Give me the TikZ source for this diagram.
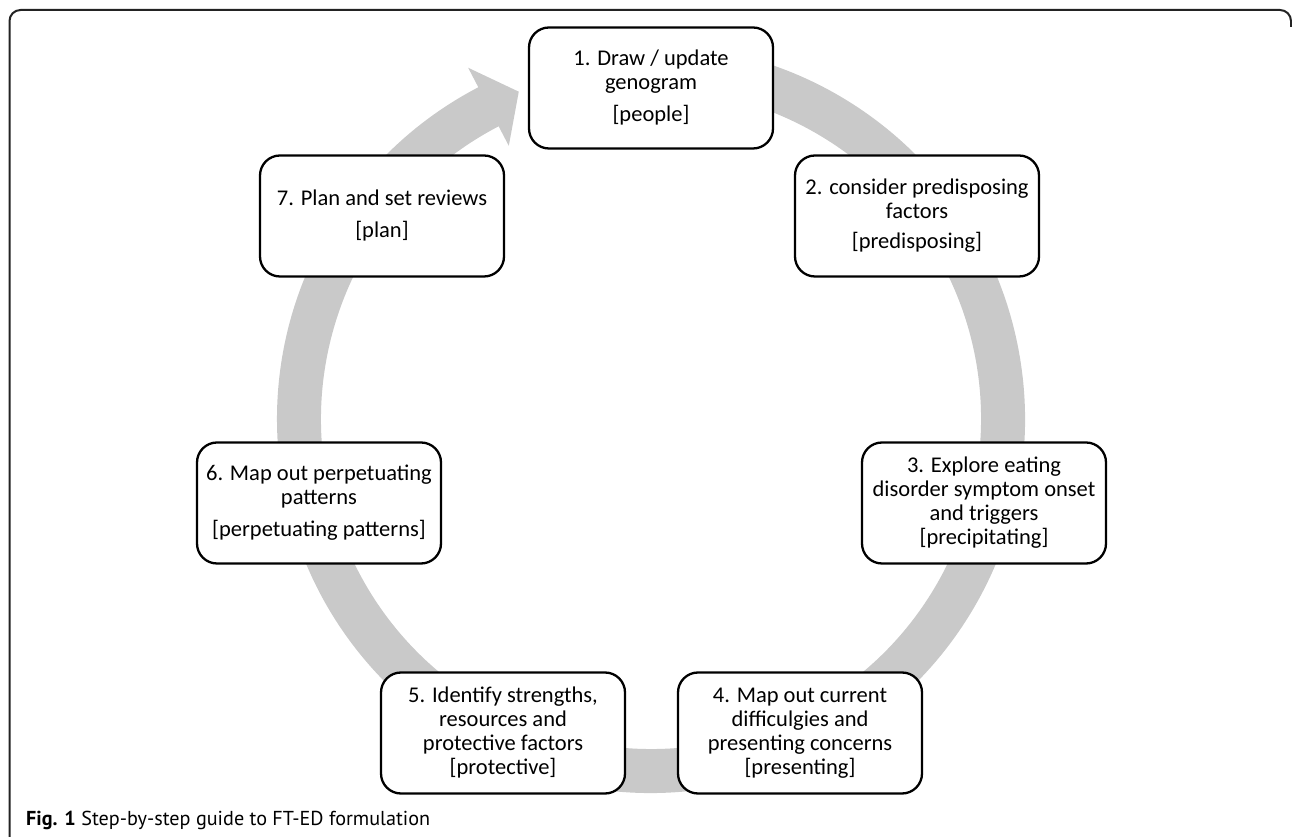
\documentclass[tikz,border=0pt]{standalone}
\usepackage{fontspec}
\newfontfamily\boxfont{Carlito}
\newfontfamily\capfont{PT Sans}
\definecolor{ringgray}{RGB}{201,201,201}
\definecolor{framegray}{RGB}{35,35,35}
\begin{document}
\begin{tikzpicture}[x=1pt,y=1pt,
  stepbox/.style={draw=black, line width=2.3pt, fill=white, rounded corners=20pt,
    minimum width=244pt, minimum height=121pt, inner sep=0pt, align=center,
    font=\boxfont\fontsize{22.5}{24}\selectfont}]
\useasboundingbox (0,0) rectangle (1292,837);
% frame
\draw[framegray, line width=2pt, rounded corners=11pt] (9.5,-5) -- (9.5,827) -- (1291,827) -- (1291,810);
% ring arrow
\begin{scope}[shift={(651,418)}]
\fill[ringgray] (100:374) arc[start angle=100,end angle=-242.5,radius=374pt]
  -- (-242.5:396) -- (-248:353) -- (-242.5:308) -- (-242.5:330)
  arc[start angle=-242.5,end angle=100,radius=330pt] -- cycle;
\end{scope}
% steps
\node[stepbox] (n1) at (651,749) {1. Draw / update\\genogram\\[8pt][people]};
\node[stepbox] (n2) at (917,621) {2. consider predisposing\\factors\\[6pt][predisposing]};
\node[stepbox] (n3) at (984,334) {3. Explore eating\\disorder symptom onset\\and triggers\\[0pt][precipitating]};
\node[stepbox] (n4) at (800,104) {4. Map out current\\difficulgies and\\presenting concerns\\[0pt][presenting]};
\node[stepbox] (n5) at (503,104) {5. Identify strengths,\\resources and\\protective factors\\[0pt][protective]};
\node[stepbox] (n6) at (319,334) {6. Map out perpetuating\\patterns\\[8pt][perpetuating patterns]};
\node[stepbox] (n7) at (382,621) {7. Plan and set reviews\\[8pt][plan]};
% caption
\node[anchor=base west, inner sep=0pt] (cap) at (26,11) {\resizebox{404pt}{!}{\capfont\fontsize{20}{24}\selectfont\textbf{Fig. 1} Step-by-step guide to FT-ED formulation}};
\end{tikzpicture}
\end{document}
